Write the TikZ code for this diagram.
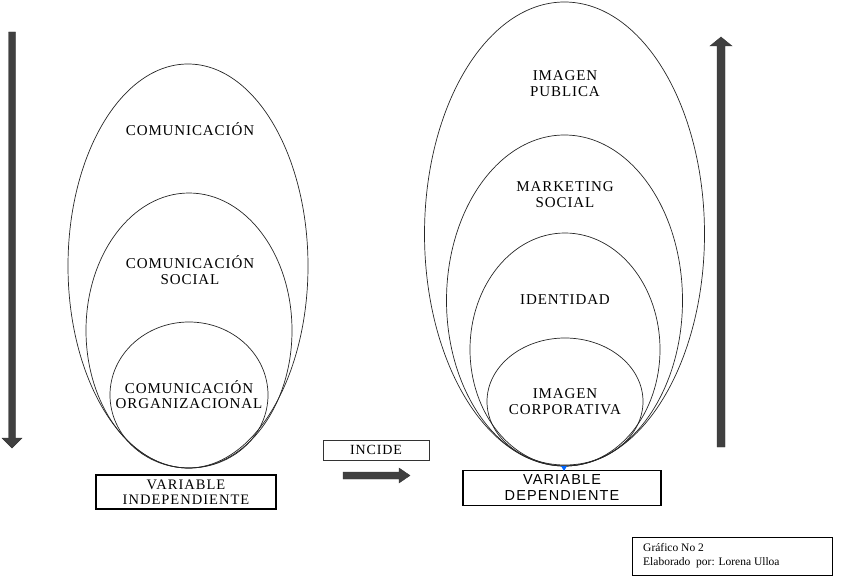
\documentclass[tikz,border=0pt]{standalone}
\usepackage{fontspec}
\setmainfont{Liberation Serif}
\newfontfamily\lsans{Liberation Sans}
\definecolor{arrowgray}{HTML}{404040}
\begin{document}
\begin{tikzpicture}[x=1pt,y=-1pt,
  ell/.style={draw=black!85, line width=0.7pt},
  lbl/.style={align=center, font=\fontsize{15}{15.5}\selectfont\addfontfeature{LetterSpace=6}, inner sep=0pt},
  vbox/.style={draw=black, line width=1.1pt, align=center, inner sep=0pt},
  bigarrow/.style={fill=arrowgray, draw=black!80, line width=0.4pt}]
\useasboundingbox (0,0) rectangle (846,583);
% left ellipses
\draw[ell] (188,266) ellipse [x radius=120, y radius=202];
\draw[ell] (189,330.5) ellipse [x radius=103, y radius=137.5];
\draw[ell] (189,395) ellipse [x radius=79, y radius=73];
\node[lbl] (c1) at (190,129) {COMUNICACIÓN};
\node[lbl] (c2) at (190,270) {COMUNICACIÓN\\SOCIAL};
\node[lbl] (c3) at (189,394.5) {COMUNICACIÓN\\ORGANIZACIONAL};
% right ellipses
\draw[ell] (564.5,234) ellipse [x radius=140, y radius=232];
\draw[ell] (564.5,300.5) ellipse [x radius=118, y radius=165.5];
\draw[ell] (565,349.5) ellipse [x radius=95, y radius=116.5];
\draw[ell] (565,401.5) ellipse [x radius=78, y radius=63.5];
\node[lbl] (r1) at (565,83.5) {IMAGEN\\PUBLICA};
\node[lbl] (r2) at (565,194.5) {MARKETING\\SOCIAL};
\node[lbl] (r3) at (565,300) {IDENTIDAD};
\node[lbl] (r4) at (565,401.5) {IMAGEN\\CORPORATIVA};
% boxes
\node[vbox, minimum width=180, minimum height=34, font=\fontsize{14.5}{14.5}\selectfont\addfontfeature{LetterSpace=7}] (vi) at (186,492) {VARIABLE\\INDEPENDIENTE};
\node[draw=black!80, line width=0.6pt, minimum width=106, minimum height=20, inner sep=0pt, font=\fontsize{14}{13}\selectfont\addfontfeature{LetterSpace=6}] (inc) at (376,450) {INCIDE};
\node[vbox, minimum width=198, minimum height=35, font=\lsans\fontsize{14.5}{16}\selectfont\addfontfeature{LetterSpace=8}] (vd) at (562,488) {VARIABLE\\DEPENDIENTE};
\fill[blue!60!cyan] (561,466) -- (567,466) -- (564,471) -- cycle;
% footer
\node[draw=black, line width=0.7pt, minimum width=200, minimum height=38, inner sep=0pt] (foot) at (732,556) {};
\node[anchor=west, align=left, inner sep=0pt, font=\fontsize{11.5}{13.5}\selectfont] (ftxt) at (643,555.5) {Gráfico No 2\\Elaborado\ \ por: Lorena Ulloa};
% arrows
\draw[bigarrow] (8.5,32) -- (15.5,32) -- (15.5,438) -- (22,438) -- (12,448) -- (2,438) -- (8.5,438) -- cycle;
\draw[bigarrow] (717,447) -- (725,447) -- (725,46) -- (732,46) -- (721,37) -- (710,46) -- (717,46) -- cycle;
\draw[bigarrow] (343,472) -- (399,472) -- (399,468) -- (410,475.5) -- (399,483) -- (399,479) -- (343,479) -- cycle;
\end{tikzpicture}
\end{document}
